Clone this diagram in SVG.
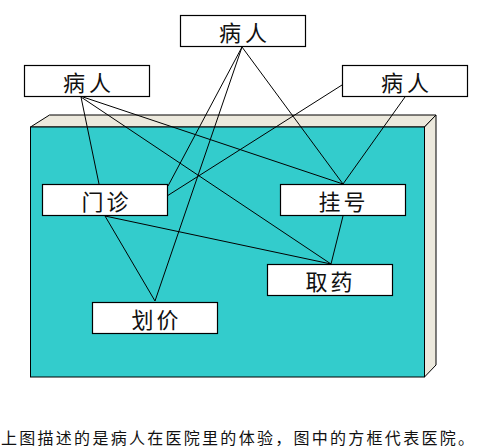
<svg xmlns="http://www.w3.org/2000/svg" width="478" height="448" viewBox="0 0 478 448">
<style>
.box{fill:#ffffff;stroke:#000000;stroke-width:1.2}
.lbl{font-family:"Noto Sans CJK SC","Noto Sans CJK JP",sans-serif;font-size:22px;fill:#111111;text-anchor:middle}
.ln{stroke:#000000;stroke-width:1;fill:none}
.cap{font-family:"Noto Sans CJK SC","Noto Sans CJK JP",sans-serif;font-size:16px;fill:#111111}
</style>
<rect width="478" height="448" fill="#ffffff"/>
<g id="hospital">
<polygon points="30.5,127 49.5,115 436,115 424.5,127" fill="#ECE9DD" stroke="#000000" stroke-width="1"/>
<polygon points="424.5,127 436,115 436,365 424.5,377" fill="#ECE9DD" stroke="#000000" stroke-width="1"/>
<rect x="30.5" y="127" width="394" height="250" fill="#33CCCC" stroke="#000000" stroke-width="1"/>
</g>
<g id="connectors">
<line class="ln" x1="242" y1="47" x2="168" y2="186"/>
<line class="ln" x1="242" y1="47" x2="155" y2="301"/>
<line class="ln" x1="242" y1="47" x2="343" y2="184"/>
<line class="ln" x1="81" y1="97" x2="99" y2="184"/>
<line class="ln" x1="81" y1="97" x2="331" y2="264"/>
<line class="ln" x1="83" y1="97" x2="343" y2="184"/>
<line class="ln" x1="342" y1="85" x2="167" y2="196"/>
<line class="ln" x1="405" y1="97" x2="343" y2="184"/>
<line class="ln" x1="105" y1="216" x2="155" y2="301"/>
<line class="ln" x1="105" y1="216" x2="331" y2="264"/>
<line class="ln" x1="343" y1="216" x2="331" y2="264"/>
</g>
<g id="patient-top">
<rect class="box" x="180.5" y="15.5" width="125" height="31"/>
<text class="lbl" x="243" y="41" textLength="48" lengthAdjust="spacing">病人</text>
</g>
<g id="patient-left">
<rect class="box" x="24.5" y="65.5" width="125" height="31"/>
<text class="lbl" x="87" y="91" textLength="48" lengthAdjust="spacing">病人</text>
</g>
<g id="patient-right">
<rect class="box" x="342.5" y="65.5" width="125" height="31"/>
<text class="lbl" x="405" y="91" textLength="48" lengthAdjust="spacing">病人</text>
</g>
<g id="clinic">
<rect class="box" x="42.5" y="184.5" width="125" height="31"/>
<text class="lbl" x="105" y="210" textLength="47" lengthAdjust="spacing">门诊</text>
</g>
<g id="register">
<rect class="box" x="280.5" y="184.5" width="125" height="31"/>
<text class="lbl" x="342" y="210" textLength="47" lengthAdjust="spacing">挂号</text>
</g>
<g id="pharmacy">
<rect class="box" x="267.5" y="264.5" width="125" height="31"/>
<text class="lbl" x="329" y="290" textLength="47" lengthAdjust="spacing">取药</text>
</g>
<g id="pricing">
<rect class="box" x="92.5" y="302.5" width="125" height="31"/>
<text class="lbl" x="155" y="328" textLength="47" lengthAdjust="spacing">划价</text>
</g>
<text class="cap" x="1" y="444" textLength="473" lengthAdjust="spacing">上图描述的是病人在医院里的体验，图中的方框代表医院。</text>
</svg>
